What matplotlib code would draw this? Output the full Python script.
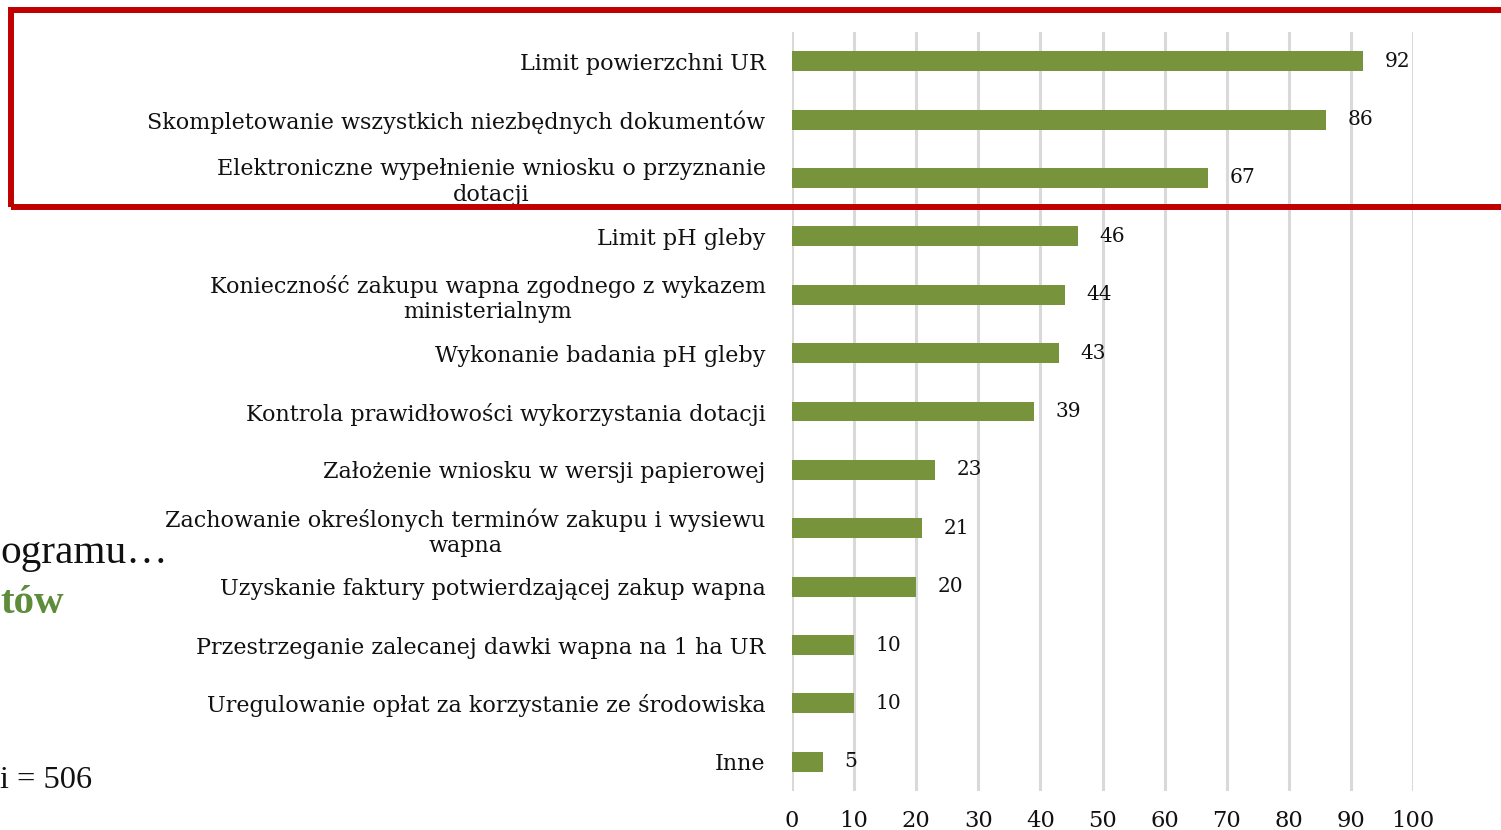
import matplotlib
matplotlib.use("Agg")
import matplotlib.pyplot as plt
from matplotlib.patches import Rectangle

categories = [
    "Limit powierzchni UR",
    "Skompletowanie wszystkich niezbędnych dokumentów",
    "Elektroniczne wypełnienie wniosku o przyznanie\ndotacji",
    "Limit pH gleby",
    "Konieczność zakupu wapna zgodnego z wykazem\nministerialnym",
    "Wykonanie badania pH gleby",
    "Kontrola prawidłowości wykorzystania dotacji",
    "Założenie wniosku w wersji papierowej",
    "Zachowanie określonych terminów zakupu i wysiewu\nwapna",
    "Uzyskanie faktury potwierdzającej zakup wapna",
    "Przestrzeganie zalecanej dawki wapna na 1 ha UR",
    "Uregulowanie opłat za korzystanie ze środowiska",
    "Inne",
]
values = [92, 86, 67, 46, 44, 43, 39, 23, 21, 20, 10, 10, 5]
x_ticks = [0, 10, 20, 30, 40, 50, 60, 70, 80, 90, 100]

W, H = 1501, 830
fig = plt.figure(figsize=(W / 100, H / 100), dpi=100)
ax_left, ax_right, ax_top, ax_bottom = 792, 1413, 32, 791
ax = fig.add_axes([ax_left / W, 1 - ax_bottom / H, (ax_right - ax_left) / W, (ax_bottom - ax_top) / H])

BAR = "#77933C"
ypos = list(range(len(categories)))
ax.barh(ypos, values, height=0.34, color=BAR, zorder=3)
ax.set_xlim(0, 100)
ax.set_ylim(len(categories) - 0.5, -0.5)

ax.set_xticks(x_ticks)
ax.xaxis.grid(True, color="#D9D9D9", linewidth=2.2, zorder=0)
ax.set_axisbelow(True)
for s in ax.spines.values():
    s.set_visible(False)
ax.tick_params(axis="x", length=0, pad=14, labelsize=16.3, labelcolor="#111111")
for lbl in ax.get_xticklabels():
    lbl.set_fontfamily("DejaVu Serif")
ax.set_yticks(ypos)
ax.set_yticklabels(categories, fontfamily="DejaVu Serif", fontsize=16, color="#111111",
                   multialignment="center", linespacing=1.2)
ax.tick_params(axis="y", length=0, pad=19)

for y, v in zip(ypos, values):
    ax.annotate(str(v), (v, y), xytext=(15.5, 0), textcoords="offset points",
                ha="left", va="center", fontsize=14.5, fontfamily="DejaVu Serif", color="#111111")

# fragments of slide text on the left
fig.text(0, 1 - 553 / H, "ogramu…", fontsize=29.7, fontfamily="Liberation Serif",
         color="#111111", ha="left", va="center")
fig.text(0, 1 - 603 / H, "tów", fontsize=29.5, fontfamily="Liberation Serif", fontweight="bold",
         color="#5E8C3A", ha="left", va="center")
fig.text(0, 1 - 780 / H, "i = 506", fontsize=23.3, fontfamily="Liberation Serif",
         color="#111111", ha="left", va="center")

# red highlight rectangle
fig.patches.append(Rectangle((10.5 / W, 1 - 207.5 / H), (W + 20) / W, (207.5 - 10) / H,
                             transform=fig.transFigure, fill=False, edgecolor="#C00000",
                             linewidth=4.3, zorder=10))

fig.savefig("out.png", dpi=100)
